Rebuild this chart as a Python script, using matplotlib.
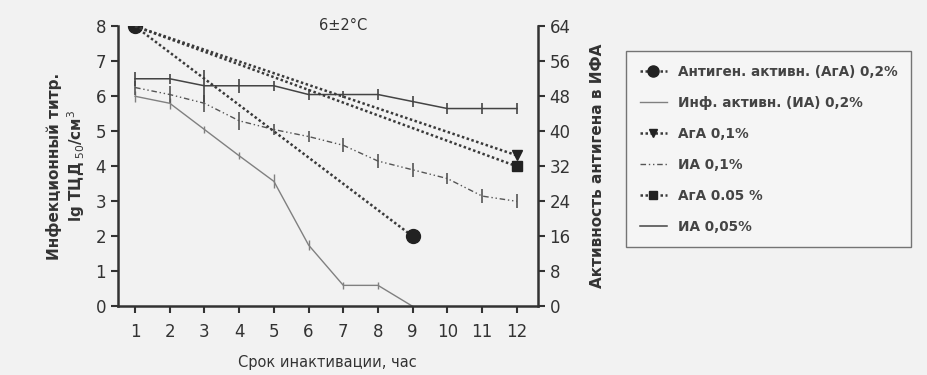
import numpy as np
import matplotlib.pyplot as plt
from matplotlib.lines import Line2D

plt.rcParams['font.family'] = ['DejaVu Sans']

hours = np.arange(1, 13)

# infectious activity, lg TCD50/cm3 (left axis)
ia_02 = [6.0, 5.8, 5.05, 4.3, 3.57, 1.75, 0.6, 0.6, 0.0]
ia_02_err = [0.15, 0.15, 0.1, 0.1, 0.2, 0.15, 0.1, 0.1, 0.0]
ia_01 = [6.25, 6.05, 5.8, 5.3, 5.05, 4.85, 4.6, 4.15, 3.9, 3.65, 3.15, 3.0]
ia_01_err = [0.2, 0.25, 0.25, 0.25, 0.15, 0.15, 0.2, 0.2, 0.2, 0.15, 0.2, 0.2]
ia_005 = [6.5, 6.5, 6.3, 6.3, 6.3, 6.05, 6.05, 6.05, 5.85, 5.65, 5.65, 5.65]
ia_005_err = [0.2, 0.15, 0.45, 0.2, 0.15, 0.15, 0.1, 0.15, 0.15, 0.15, 0.15, 0.15]

# antigen activity in ELISA (right axis)
aga_02_x = [1, 9]
aga_02 = [64, 16]
aga_01_x = [1, 12]
aga_01 = [64, 34.5]
aga_005_x = [1, 12]
aga_005 = [64, 32]

col = '#3a3a3a'
dots = (0, (1.0, 1.0))
dashdot2 = (0, (4, 2, 1, 2, 1, 2))
fig = plt.figure(figsize=(9.27, 3.75), dpi=100, facecolor='#f2f2f2')
ax = fig.add_axes([0.127, 0.183, 0.453, 0.747])
ax.set_facecolor('#f2f2f2')
ax2 = ax.twinx()

ax2.plot(aga_02_x, aga_02, linestyle=dots, color=col, lw=1.8,
         marker='o', ms=10, mfc='#222222', mec='#222222')
ax.errorbar(hours[:9], ia_02, yerr=ia_02_err, color='#808080', lw=1.0,
            elinewidth=1.0, capsize=0)
ax2.plot(aga_01_x, aga_01, linestyle=dots, color=col, lw=1.8,
         marker='v', ms=7, mfc='#222222', mec='#222222', markevery=[1])
ax.errorbar(hours, ia_01, yerr=ia_01_err, color='#555555', lw=1.0,
            linestyle=dashdot2, elinewidth=1.2, capsize=0)
ax2.plot(aga_005_x, aga_005, linestyle=dots, color=col, lw=1.8,
         marker='s', ms=7, mfc='#222222', mec='#222222', markevery=[1])
ax.errorbar(hours, ia_005, yerr=ia_005_err, color='#444444', lw=1.1,
            elinewidth=1.2, capsize=0)

ax.set_xlim(0.5, 12.6)
ax.set_ylim(0, 8)
ax2.set_ylim(0, 64)
ax.set_xticks(hours)
ax.set_yticks(range(0, 9))
ax2.set_yticks(range(0, 65, 8))

for a in (ax, ax2):
    a.spines['top'].set_visible(False)
    a.tick_params(labelsize=12, length=5, width=1.5, colors='#333333')
ax.tick_params(axis='x', pad=7)
for s in ('left', 'bottom'):
    ax.spines[s].set_linewidth(1.8)
    ax.spines[s].set_color('#333333')
ax2.spines['right'].set_linewidth(1.8)
ax2.spines['right'].set_color('#333333')
ax2.spines['left'].set_visible(False)
ax2.spines['bottom'].set_visible(False)
ax.spines['right'].set_visible(False)

ax.set_ylabel('Инфекционный титр.\nlg ТЦД$_{\\ 50}$/см$^3$', fontsize=11,
              fontweight='bold', color='#333333', labelpad=6)
ax2.set_ylabel('Активность антигена в ИФА', fontsize=11, fontweight='bold',
               color='#333333', labelpad=14)
ax.set_xlabel('Срок инактивации, час', fontsize=10.5, color='#333333',
              labelpad=10)
ax.text(6.3, 7.9, '6±2°C', fontsize=10.5, color='#333333')

handles = [
    Line2D([], [], linestyle=dots, color=col, lw=1.8, marker='o', ms=8,
           mfc='#222222', mec='#222222'),
    Line2D([], [], color='#808080', lw=1.0),
    Line2D([], [], linestyle=dots, color=col, lw=1.8, marker='v', ms=6,
           mfc='#222222', mec='#222222'),
    Line2D([], [], linestyle=dashdot2, color='#555555', lw=1.0),
    Line2D([], [], linestyle=dots, color=col, lw=1.8, marker='s', ms=6,
           mfc='#222222', mec='#222222'),
    Line2D([], [], color='#444444', lw=1.1),
]
labels = ['Антиген. активн. (АгА) 0,2%', 'Инф. активн. (ИА) 0,2%',
          'АгА 0,1%', 'ИА 0,1%', 'АгА 0.05 %', 'ИА 0,05%']
fig.legend(handles, labels, loc='upper left',
           bbox_to_anchor=(0.668, 0.882), frameon=True,
           prop={'size': 9.8, 'weight': 'bold'},
           fancybox=False, edgecolor='#555555', facecolor='#f7f7f7',
           labelcolor='#444444', handlelength=2.0, labelspacing=1.25,
           borderpad=1.0)

fig.savefig('out.png', dpi=100, facecolor=fig.get_facecolor())
